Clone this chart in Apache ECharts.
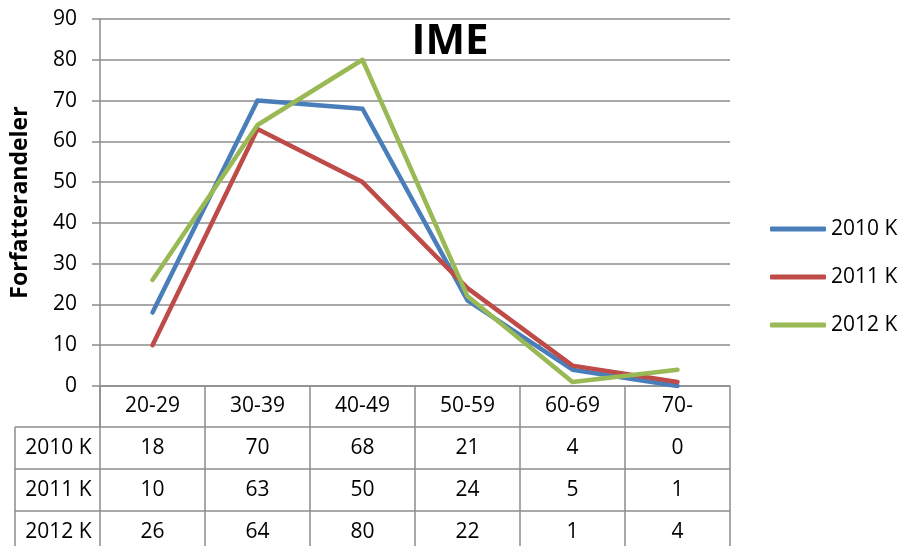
<!DOCTYPE html>
<html><head><meta charset="utf-8">
<script src="https://cdn.jsdelivr.net/npm/echarts@6/dist/echarts.min.js"></script>
<style>html,body{margin:0;padding:0;background:#fff}#c{width:906px;height:546px}</style>
</head><body><div id="c"></div>
<script>
const categories = ['20-29','30-39','40-49','50-59','60-69','70-'];
const seriesNames = ['2010 K','2011 K','2012 K'];
const v2010 = [18,70,68,21,4,0];
const v2011 = [10,63,50,24,5,1];
const v2012 = [26,64,80,22,1,4];
const yTicks = [0,10,20,30,40,50,60,70,80,90];
const colors = ['#4A7EBB','#BE4B48','#98B954'];
const values = [v2010, v2011, v2012];
const FONT = '"Open Sans", "Noto Sans", sans-serif';
const GRIDC = '#8c8c8c';
const FS = 21;

const chart = echarts.init(document.getElementById('c'), null, {renderer:'canvas'});
chart.setOption({
  animation:false,
  backgroundColor:'#fff',
  title:{text:'IME', left:445, top:16, textAlign:'center',
    textStyle:{fontFamily:FONT, fontWeight:'bold', fontSize:42, color:'#000'}},
  legend:{orient:'vertical', left:770, top:218, padding:0, itemWidth:56, itemHeight:5, itemGap:26,
    icon:'roundRect', data:seriesNames,
    textStyle:{fontFamily:FONT, fontSize:FS, lineHeight:22, color:'#000'}},
  grid:{left:100, right:176, top:19, bottom:160},
  xAxis:{type:'category', data:categories, boundaryGap:true,
    axisLine:{show:true, lineStyle:{color:GRIDC, width:1.5}},
    axisTick:{show:true, interval:0, length:41, lineStyle:{color:GRIDC, width:1.5}},
    axisLabel:{interval:0, margin:10, fontFamily:FONT, fontSize:FS, color:'#000'}},
  yAxis:{type:'value', min:yTicks[0], max:yTicks[yTicks.length-1], interval:10,
    name:'Forfatterandeler', nameLocation:'middle', nameRotate:90, nameGap:68,
    nameTextStyle:{fontFamily:FONT, fontWeight:'bold', fontSize:23, color:'#000'},
    axisLine:{show:true, lineStyle:{color:GRIDC, width:1.5}},
    axisTick:{show:true, length:8, lineStyle:{color:GRIDC, width:1.5}},
    axisLabel:{margin:23, fontFamily:FONT, fontSize:FS, color:'#000'},
    splitLine:{show:true, lineStyle:{color:GRIDC, width:1.5}}},
  series: seriesNames.map((n,i)=>({name:n, type:'line', data:values[i], showSymbol:false,
    symbol:'none', color:colors[i],
    lineStyle:{width:4.5, color:colors[i], cap:'round', join:'round'}}))
});

function drawTable(){
  const x0 = chart.convertToPixel({xAxisIndex:0}, 0);
  const x1 = chart.convertToPixel({xAxisIndex:0}, 1);
  const band = x1 - x0;
  const yAxis0 = chart.convertToPixel({yAxisIndex:0}, 0);
  const headerH = 41, rowH = 42;
  const leftX = 15;
  const leftAxis = x0 - band/2;
  const rightAxis = leftAxis + band*categories.length;
  const tableBottom = yAxis0 + headerH + rowH*seriesNames.length;
  const els = [];
  const line = (xa,ya,xb,yb)=>els.push({type:'line', silent:true,
    shape:{x1:xa,y1:ya,x2:xb,y2:yb}, style:{stroke:GRIDC, lineWidth:1.5}});
  for(let r=0;r<=seriesNames.length;r++){
    const y = yAxis0 + headerH + rowH*r;
    line(leftX, y, rightAxis, y);
  }
  line(leftX, yAxis0+headerH, leftX, tableBottom);
  line(leftAxis, yAxis0, leftAxis, tableBottom);
  for(let c=1;c<=categories.length;c++){
    const x = leftAxis + band*c;
    line(x, yAxis0+headerH, x, tableBottom);
  }
  seriesNames.forEach((n,r)=>{
    const yc = yAxis0 + headerH + rowH*r + rowH/2;
    els.push({type:'text', silent:true, style:{text:n, x:(leftX+leftAxis)/2+1, y:yc,
      textAlign:'center', textVerticalAlign:'middle', fontFamily:FONT, fontSize:FS, fill:'#000'}});
    values[r].forEach((v,c)=>{
      const xc = chart.convertToPixel({xAxisIndex:0}, c);
      els.push({type:'text', silent:true, style:{text:String(v), x:xc, y:yc,
        textAlign:'center', textVerticalAlign:'middle', fontFamily:FONT, fontSize:FS, fill:'#000'}});
    });
  });
  chart.setOption({graphic:{elements:els}});
}
drawTable();
</script></body></html>
